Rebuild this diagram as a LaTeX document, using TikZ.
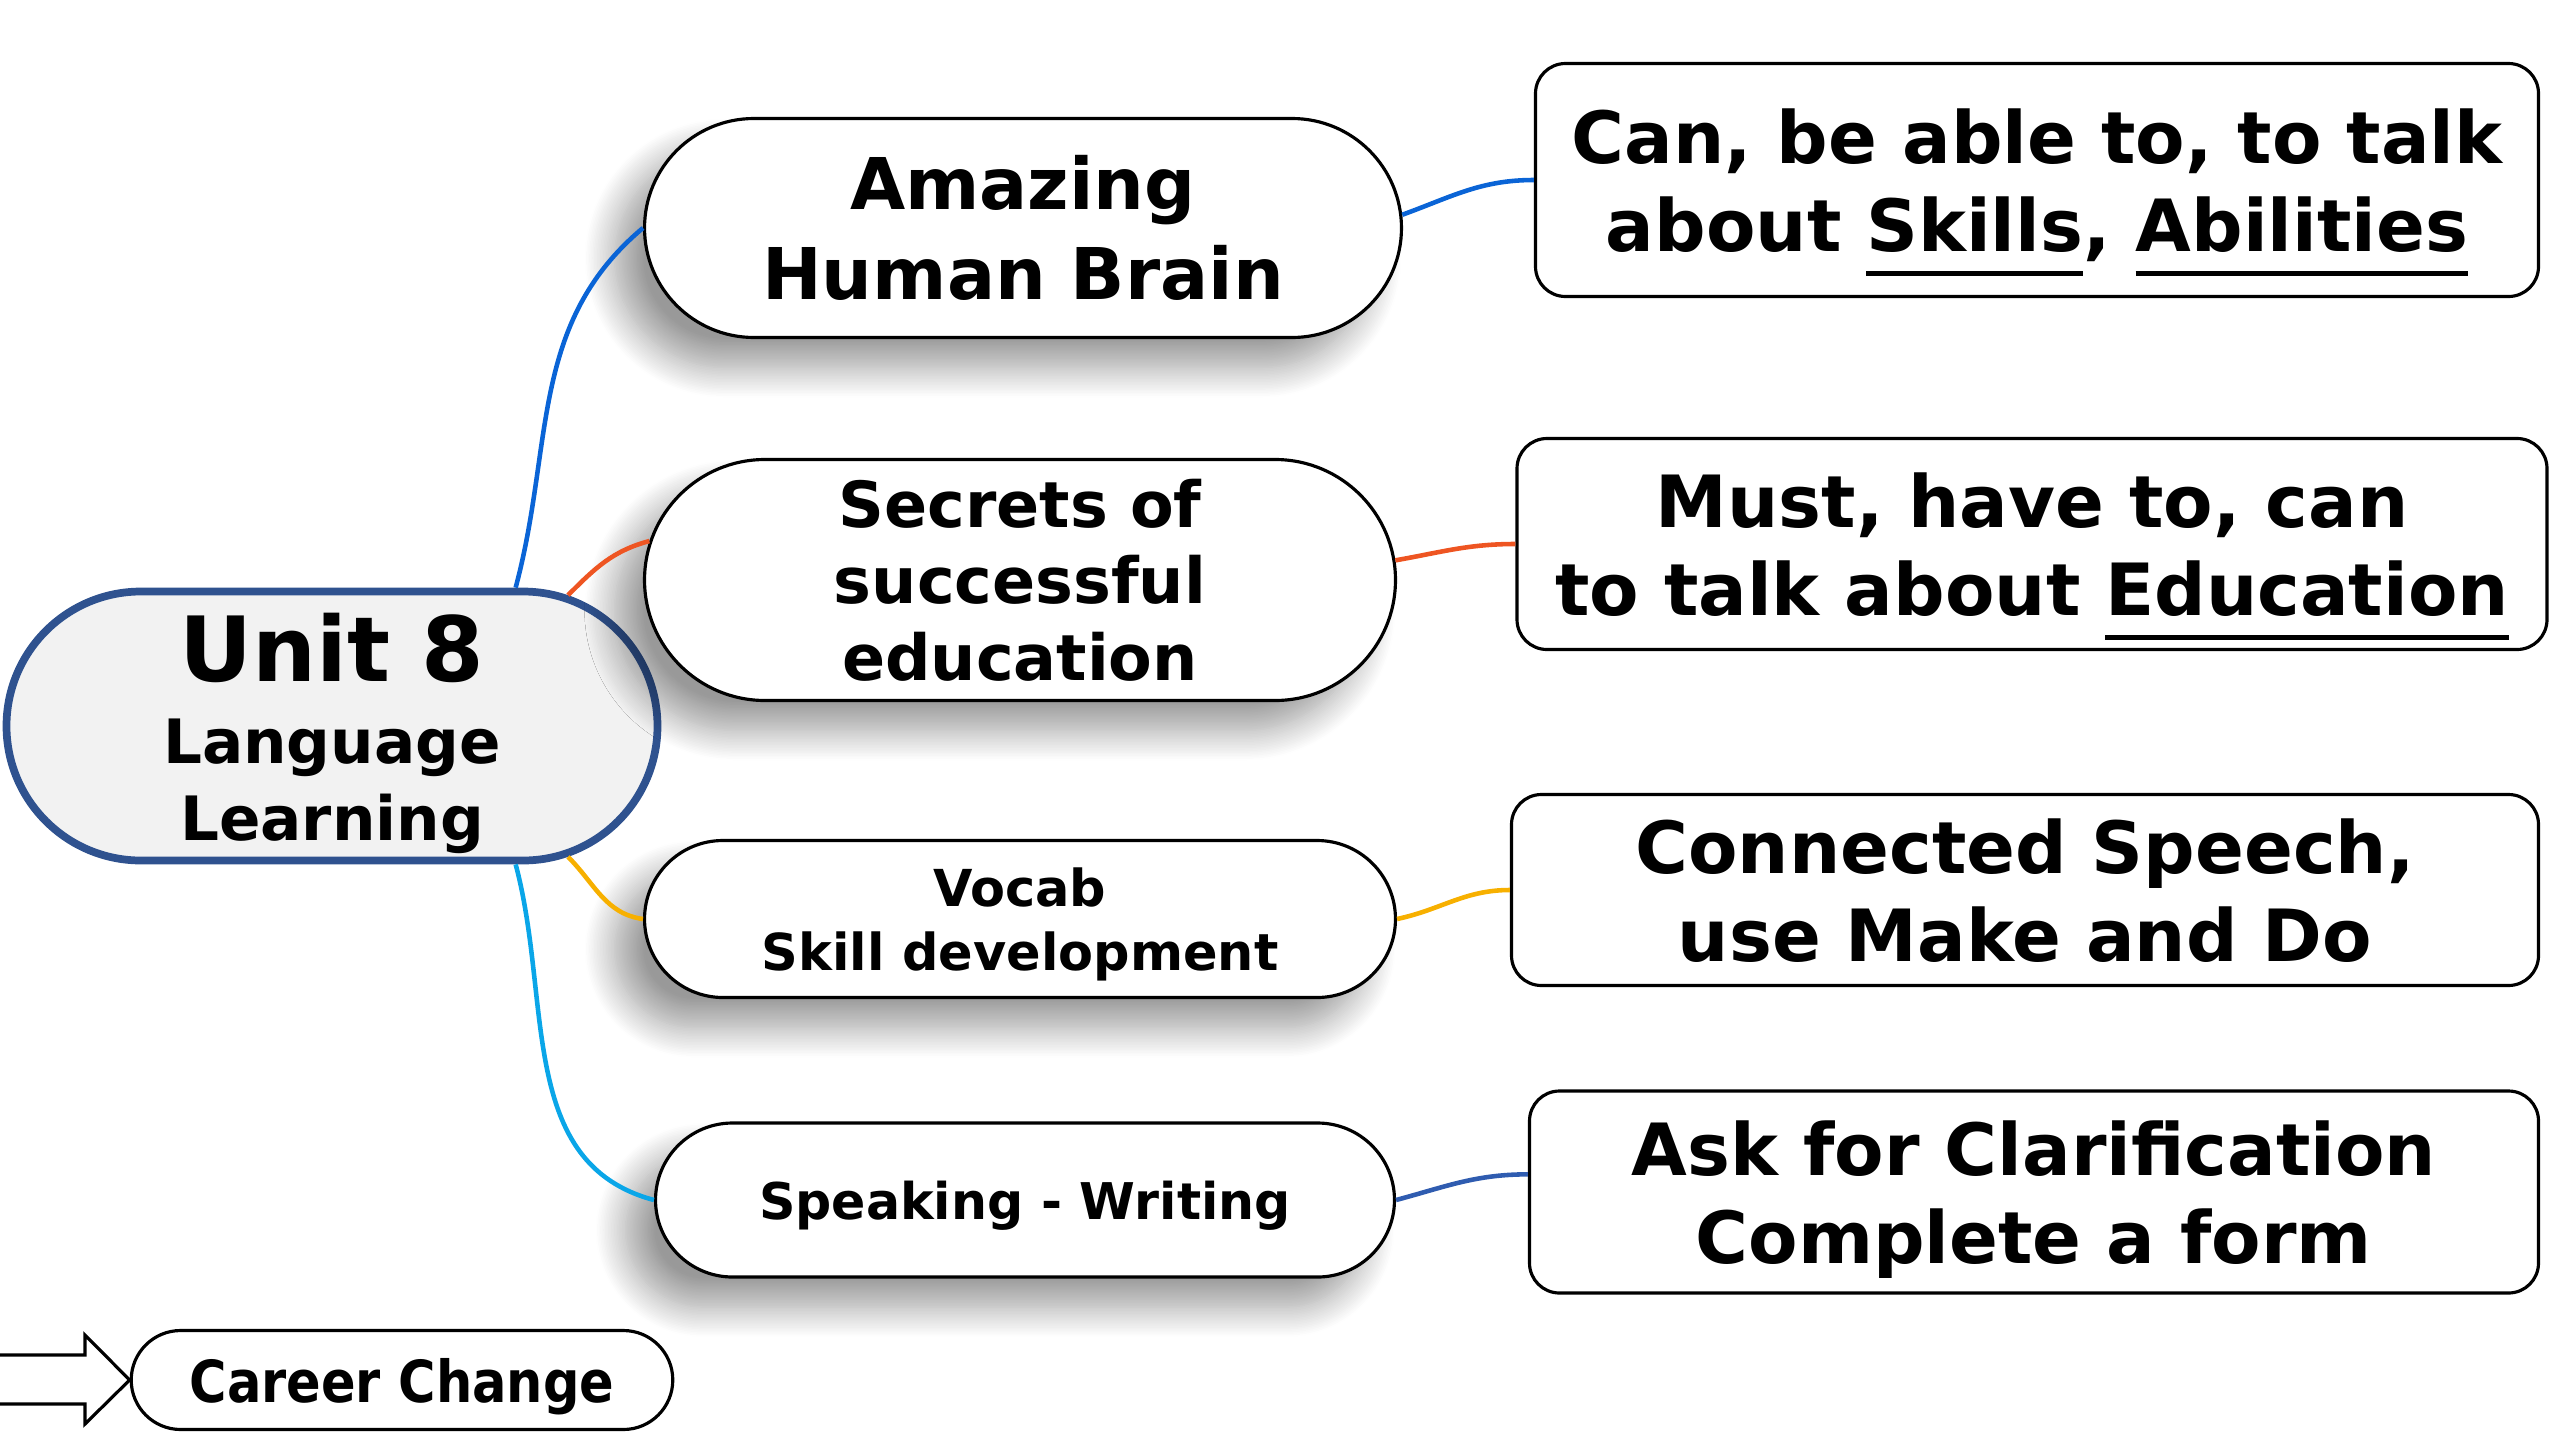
\documentclass[tikz,border=0pt]{standalone}
\usepackage{fontspec}
\setmainfont{DejaVu Sans}
\newfontfamily\narrowfont[FakeStretch=0.88]{DejaVu Sans}
\usetikzlibrary{shapes.misc,shadows.blur}
\definecolor{hubfill}{HTML}{F2F2F2}
\definecolor{hubline}{HTML}{2F528F}
\definecolor{cblue}{HTML}{0A64D6}
\definecolor{corange}{HTML}{EE5522}
\definecolor{cyellow}{HTML}{F7B000}
\definecolor{clight}{HTML}{0AA6E8}
\definecolor{cdark}{HTML}{2F5CB0}
\newcommand{\ulword}[1]{\setbox0\hbox{#1}\rlap{\rule[-0.34em]{\wd0}{1.3pt}}\box0}
\tikzset{
  topic/.style={rounded rectangle, draw=black, line width=0.9pt, fill=white, align=center, inner sep=2pt,
    blur shadow={shadow xshift=-0.3cm, shadow yshift=-0.3cm, shadow blur radius=0.3cm,
      shadow blur steps=20, shadow opacity=40}},
  note/.style={rectangle, rounded corners=0.3cm, draw=black, line width=0.9pt, fill=white,
    align=center, inner sep=2pt, text depth=0pt, font=\bfseries\fontsize{20.5}{25}\selectfont},
  link/.style={line width=1.3pt},
}
\begin{document}
\begin{tikzpicture}
\useasboundingbox (0,0) rectangle (25.6,-14.4);
\node[rounded rectangle, draw=hubline, line width=2.2pt, fill=hubfill, align=center,
  font=\bfseries\fontsize{17.4}{21.8}\selectfont, text depth=0pt,
  minimum width=6.51cm, minimum height=2.69cm, inner sep=0pt] (hub) at (3.32,-7.26)
  {\fontsize{25.6}{28}\selectfont\rule{0pt}{20pt}Unit 8\\[1.5pt]Language\\Learning};
\node[topic, font=\bfseries\fontsize{20.3}{25.5}\selectfont, minimum width=7.71cm, minimum height=2.19cm] (amaz) at (10.23,-2.28)
  {Amazing\\Human Brain};
\node[topic, font=\bfseries\fontsize{18.1}{21.8}\selectfont, minimum width=7.65cm, minimum height=2.41cm] (secr) at (10.20,-5.80)
  {Secrets of\\successful\\education};
\node[topic, font=\bfseries\fontsize{14.5}{18.1}\selectfont, text depth=0pt, minimum width=7.65cm, minimum height=1.57cm] (voc) at (10.20,-9.19)
  {Vocab\\Skill development};
\node[topic, font=\bfseries\fontsize{14.4}{18}\selectfont, text depth=0pt, minimum width=7.53cm, minimum height=1.54cm] (spk) at (10.25,-12.00)
  {Speaking - Writing};
\node[note, minimum width=10.03cm, minimum height=2.33cm] (box1) at (20.37,-1.80)
  {Can, be able to, to talk\\about \ulword{Skills}, \ulword{Abilities}};
\node[note, minimum width=10.30cm, minimum height=2.11cm] (box2) at (20.32,-5.44)
  {Must, have to, can\\to talk about \ulword{Education}};
\node[note, minimum width=10.27cm, minimum height=1.91cm] (box3) at (20.25,-8.90)
  {Connected Speech,\\use Make and Do};
\node[note, minimum width=10.09cm, minimum height=2.02cm] (box4) at (20.34,-11.92)
  {Ask for Clarification\\Complete a form};
\node[rounded rectangle, draw=black, line width=0.9pt, minimum width=5.65cm, minimum height=0.99cm,
  font=\narrowfont\bfseries\fontsize{16.5}{18}\selectfont, text depth=0pt] (career) at (4.02,-13.80) {Career Change};
\draw[line width=0.9pt] (0,-13.55) -- (0.85,-13.55) -- (0.85,-13.35) -- (career.west) -- (0.85,-14.24) -- (0.85,-14.04) -- (0,-14.04);
\draw[link, cblue] (hub.37) to[out=75, in=220] (amaz.west);
\draw[link, corange] (hub.29) to[out=45, in=195] (secr.174);
\draw[link, cyellow] (hub.-29) to[out=-45, in=172] (voc.west);
\draw[link, clight] (hub.-37) to[out=-75, in=165] (spk.west);
\draw[link, cblue] (amaz.2) to[out=20, in=180] (box1.west);
\draw[link, corange] (secr.3) to[out=10, in=180] (box2.west);
\draw[link, cyellow] (voc.east) to[out=12, in=180] (box3.west);
\draw[link, cdark] (spk.east) to[out=15, in=180] (box4.178);
\end{tikzpicture}
\end{document}
